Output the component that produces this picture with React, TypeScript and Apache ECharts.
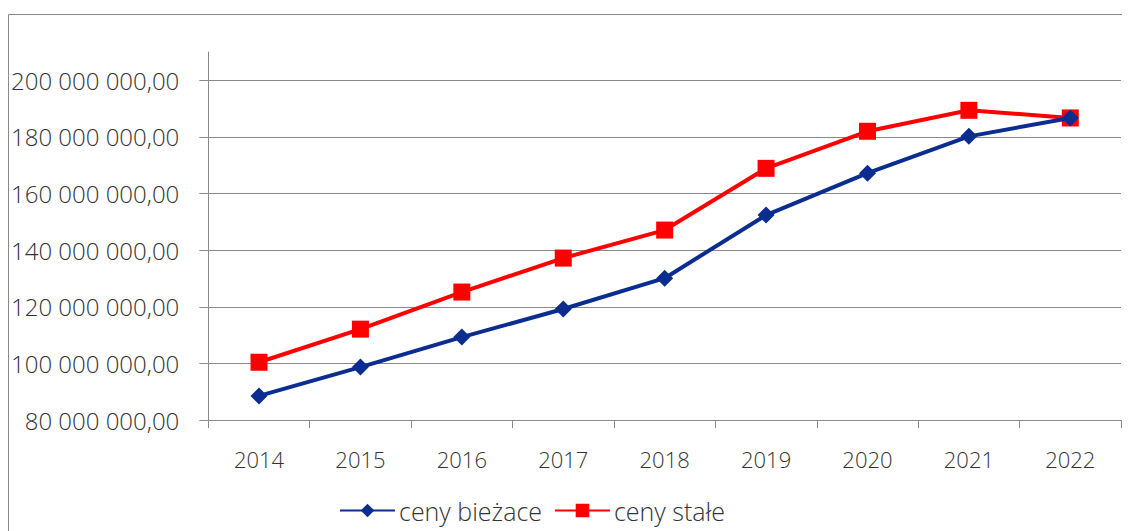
import React, { useEffect, useRef } from "react";
import * as echarts from "echarts";

const years = ["2014", "2015", "2016", "2017", "2018", "2019", "2020", "2021", "2022"];
const cenyBiezace = [88500000, 98700000, 109300000, 119200000, 130100000, 152400000, 167200000, 180200000, 186700000];
const cenyStale = [100400000, 112100000, 125200000, 137200000, 147100000, 168900000, 182000000, 189400000, 186700000];
const yTicks = [80000000, 100000000, 120000000, 140000000, 160000000, 180000000, 200000000];

const FONT = "'Open Sans', 'Noto Sans', sans-serif";
const TXT = "#333333";
const GRID = "#8a8a8a";

function fmt(v: number): string {
  const s = Math.round(v).toString().replace(/\B(?=(\d{3})+(?!\d))/g, " ");
  return s + ",00";
}

export default function App() {
  const ref = useRef<HTMLDivElement>(null);
  useEffect(() => {
    if (!ref.current) return;
    const chart = echarts.init(ref.current, null, { renderer: "svg" });
    chart.setOption({
      animation: false,
      backgroundColor: "#ffffff",
      graphic: [
        {
          type: "rect",
          silent: true,
          shape: { x: 0.5, y: 6.5, width: 1300, height: 700 },
          style: { fill: "none", stroke: GRID, lineWidth: 1 },
        },
      ],
      grid: { left: 199, right: 9, top: 44, bottom: 111, containLabel: false },
      legend: {
        top: 485,
        left: 326,
        itemWidth: 55,
        itemHeight: 17,
        itemGap: 12,
        textStyle: { fontFamily: FONT, fontSize: 25, fontWeight: 300, color: TXT, padding: [0, 0, 0, -1] },
        data: ["ceny bieżace", "ceny stałe"],
      },
      xAxis: {
        type: "category",
        data: years,
        boundaryGap: true,
        axisLine: { lineStyle: { color: GRID, width: 1 } },
        axisTick: { show: true, length: 8, lineStyle: { color: GRID } },
        axisLabel: { fontFamily: FONT, fontSize: 22, fontWeight: 300, color: TXT, margin: 28 },
        splitLine: { show: false },
      },
      yAxis: {
        type: "value",
        min: 80000000,
        max: 210000000,
        interval: 20000000,
        axisLine: { show: true, lineStyle: { color: GRID, width: 1 } },
        axisTick: { show: true, length: 9, lineStyle: { color: GRID }, customValues: yTicks },
        axisLabel: {
          fontFamily: FONT,
          fontSize: 24,
          fontWeight: 300,
          color: TXT,
          margin: 29,
          customValues: yTicks,
          formatter: (v: number) => (v % 20000000 === 0 ? fmt(v) : ""),
        },
        splitLine: { show: true, lineStyle: { color: GRID, width: 1 } },
      },
      series: [
        {
          name: "ceny bieżace",
          type: "line",
          data: cenyBiezace,
          symbol: "diamond",
          symbolSize: 17,
          lineStyle: { color: "#0a2d8f", width: 4 },
          itemStyle: { color: "#0a2d8f" },
          z: 3,
        },
        {
          name: "ceny stałe",
          type: "line",
          data: cenyStale,
          symbol: "rect",
          symbolSize: 17,
          lineStyle: { color: "#ff0000", width: 4 },
          itemStyle: { color: "#ff0000" },
          z: 2,
        },
      ],
    });
    return () => chart.dispose();
  }, []);
  return <div ref={ref} style={{ width: 1122, height: 523 }} />;
}
